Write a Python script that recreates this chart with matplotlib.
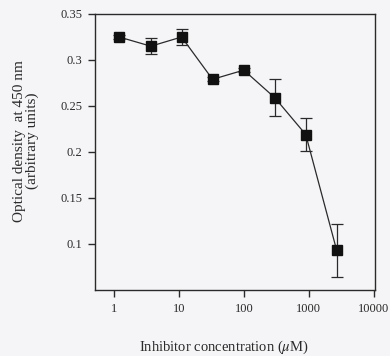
import numpy as np
import matplotlib
matplotlib.use('Agg')
import matplotlib.pyplot as plt
from matplotlib.ticker import FixedLocator, FixedFormatter, NullLocator

# inhibitor dose series (3-fold dilutions) and measured OD450
conc = [1.2, 3.7, 11, 33, 100, 300, 900, 2700]
od = [0.325, 0.315, 0.325, 0.279, 0.289, 0.259, 0.219, 0.093]
od_err = [0.002, 0.009, 0.009, 0.002, 0.002, 0.020, 0.018, 0.029]

xticks = [1, 10, 100, 1000, 10000]
xtick_labels = ['1', '10', '100', '1000', '10000']
yticks = [0.1, 0.15, 0.2, 0.25, 0.3, 0.35]
ytick_labels = ['0.1', '0.15', '0.2', '0.25', '0.3', '0.35']

bg = '#f5f5f7'
ink = '#2a2a2a'
plt.rcParams['font.family'] = ['Liberation Serif', 'DejaVu Serif']
plt.rcParams['mathtext.fontset'] = 'stix'

fig = plt.figure(figsize=(3.9, 3.56), dpi=100, facecolor=bg)
ax = fig.add_axes([95 / 390, 1 - 290 / 356, 280 / 390, 276 / 356])
ax.set_facecolor(bg)

ax.errorbar(conc, od, yerr=od_err, color=ink, lw=0.9, marker='s', ms=7.5,
            mfc='#111111', mec='#111111', ecolor=ink, elinewidth=0.9,
            capsize=4, capthick=0.9)

ax.set_xscale('log')
ax.set_xlim(0.51, 10500)
ax.set_ylim(0.05, 0.35)
ax.xaxis.set_major_locator(FixedLocator(xticks))
ax.xaxis.set_major_formatter(FixedFormatter(xtick_labels))
ax.xaxis.set_minor_locator(NullLocator())
ax.set_yticks(yticks)
ax.set_yticklabels(ytick_labels)

for s in ax.spines.values():
    s.set_color(ink)
    s.set_linewidth(1.0)
ax.tick_params(axis='both', direction='out', colors=ink, labelsize=9,
               width=1.0, length=5, pad=4)

ax.set_xlabel(r'Inhibitor concentration ($\mathit{\mu}$M)', fontsize=10.5,
              color=ink)
ax.xaxis.set_label_coords(0.46, -0.178)
ax.set_ylabel('Optical density  at 450 nm\n(arbitrary units)', fontsize=11,
              color=ink, linespacing=1.0)
ax.yaxis.set_label_coords(-0.2, 0.54)

fig.savefig('out.png', dpi=100, facecolor=bg)
